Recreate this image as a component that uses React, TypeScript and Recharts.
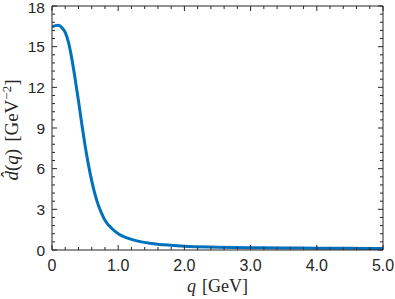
import React from 'react';
import { LineChart, Line, XAxis, YAxis, Label } from 'recharts';

// q in GeV, d(q) in GeV^-2
const qValues = [0, 0.05, 0.1, 0.15, 0.2, 0.25, 0.3, 0.35, 0.4, 0.45, 0.5, 0.55, 0.6, 0.65, 0.7, 0.75, 0.8, 0.9, 1.0, 1.1, 1.2, 1.35, 1.5, 1.7, 2.0, 2.5, 3.0, 3.5, 4.0, 4.5, 5.0];
const dValues = [16.45, 16.55, 16.58, 16.4, 16.05, 15.3, 14.1, 12.6, 11.0, 9.3, 7.7, 6.3, 5.1, 4.1, 3.3, 2.7, 2.2, 1.6, 1.2, 0.95, 0.78, 0.6, 0.48, 0.38, 0.28, 0.21, 0.17, 0.15, 0.13, 0.12, 0.11];

const xMajorTicks = [0, 1, 2, 3, 4, 5];
const yMajorTicks = [0, 3, 6, 9, 12, 15, 18];
const xMinorStep = 0.2;
const yMinorStep = 0.6;

const makeTicks = (max: number, step: number) => {
    const out: number[] = [];
    for (let k = 0; k * step <= max + 1e-9; k++) out.push(Math.round(k * step * 100) / 100);
    return out;
};
const xTicks = makeTicks(5, xMinorStep);
const yTicks = makeTicks(18, yMinorStep);

const chartData = qValues.map((q, i) => ({ q, d: dValues[i] }));

const AXIS = '#262626';
const SANS = '"Liberation Sans", Arial, sans-serif';
const SERIF = '"Liberation Serif", "Times New Roman", serif';
const MAJOR = 5;
const MINOR = 3;

const isMajor = (v: number, list: number[]) => list.some(m => Math.abs(m - v) < 1e-6);

// dir: +1 ticks go up/right from the axis, -1 down/left
const XTick = ({ x, y, payload, dir, labels }: any) => {
    const major = isMajor(payload.value, xMajorTicks);
    const len = major ? MAJOR : MINOR;
    return (
        <g>
            <line x1={x} y1={y} x2={x} y2={y - dir * len} stroke={AXIS} strokeWidth={1} />
            {labels && major && (
                <text x={x} y={y + 21} textAnchor="middle" fontFamily={SANS} fontSize={16} fill={AXIS}>
                    {payload.value === 0 ? '0' : payload.value.toFixed(1)}
                </text>
            )}
        </g>
    );
};

const YTick = ({ x, y, payload, dir, labels }: any) => {
    const major = isMajor(payload.value, yMajorTicks);
    const len = major ? MAJOR : MINOR;
    return (
        <g>
            <line x1={x} y1={y} x2={x + dir * len} y2={y} stroke={AXIS} strokeWidth={1} />
            {labels && major && (
                <text x={x - 7} y={Math.max(y + 5.5, 12.5)} textAnchor="end" fontFamily={SANS} fontSize={15.5} fill={AXIS}>
                    {String(Math.round(payload.value))}
                </text>
            )}
        </g>
    );
};

const XTitle = ({ viewBox }: any) => (
    <text x={viewBox.x + viewBox.width / 2} y={viewBox.y + 42} textAnchor="middle" fontFamily={SERIF} fontSize={18} fill={AXIS}>
        <tspan fontStyle="italic">q</tspan>
        <tspan dx={6}>[GeV]</tspan>
    </text>
);

const YTitle = ({ viewBox }: any) => {
    const cy = viewBox.y + viewBox.height / 2 + 2;
    return (
        <text transform={`translate(18, ${cy}) rotate(-90)`} x={0} y={0} textAnchor="middle" fontFamily={SERIF} fontSize={19} fill={AXIS}>
            <tspan fontStyle="italic">{'d\u0302'}</tspan>
            <tspan>(</tspan>
            <tspan fontStyle="italic">q</tspan>
            <tspan>)</tspan>
            <tspan dx={7}>[GeV</tspan>
            <tspan dy={-7} fontSize={13}>{'\u22122'}</tspan>
            <tspan dy={7}>]</tspan>
        </text>
    );
};

const App: React.FC = () => {
    return (
        <div style={{ position: 'absolute', left: 0, top: 0, width: 395, height: 299, background: '#fff' }}>
            <LineChart width={395} height={299} data={chartData} margin={{ top: 5, right: 11, bottom: 48, left: 51 }}>
                <XAxis
                    dataKey="q"
                    type="number"
                    domain={[0, 5]}
                    ticks={xTicks}
                    interval={0}
                    allowDataOverflow
                    height={1}
                    tickSize={0}
                    tickMargin={0}
                    tickLine={false}
                    axisLine={{ stroke: AXIS, strokeWidth: 1 }}
                    tick={(p: any) => <XTick {...p} dir={1} labels />}
                >
                    <Label content={XTitle} />
                </XAxis>
                <XAxis
                    xAxisId="top"
                    orientation="top"
                    dataKey="q"
                    type="number"
                    domain={[0, 5]}
                    ticks={xTicks}
                    interval={0}
                    allowDataOverflow
                    height={1}
                    tickSize={0}
                    tickMargin={0}
                    tickLine={false}
                    axisLine={{ stroke: AXIS, strokeWidth: 1 }}
                    tick={(p: any) => <XTick {...p} dir={-1} />}
                />
                <YAxis
                    type="number"
                    domain={[0, 18]}
                    ticks={yTicks}
                    interval={0}
                    allowDataOverflow
                    width={1}
                    tickSize={0}
                    tickMargin={0}
                    tickLine={false}
                    axisLine={{ stroke: AXIS, strokeWidth: 1 }}
                    tick={(p: any) => <YTick {...p} dir={1} labels />}
                >
                    <Label content={YTitle} />
                </YAxis>
                <YAxis
                    yAxisId="right"
                    orientation="right"
                    type="number"
                    domain={[0, 18]}
                    ticks={yTicks}
                    interval={0}
                    allowDataOverflow
                    width={1}
                    tickSize={0}
                    tickMargin={0}
                    tickLine={false}
                    axisLine={{ stroke: AXIS, strokeWidth: 1 }}
                    tick={(p: any) => <YTick {...p} dir={-1} />}
                />
                <Line
                    type="monotone"
                    dataKey="d"
                    stroke="#0072BD"
                    strokeWidth={3}
                    dot={false}
                    activeDot={false}
                    isAnimationActive={false}
                />
            </LineChart>
        </div>
    );
};

export default App;
